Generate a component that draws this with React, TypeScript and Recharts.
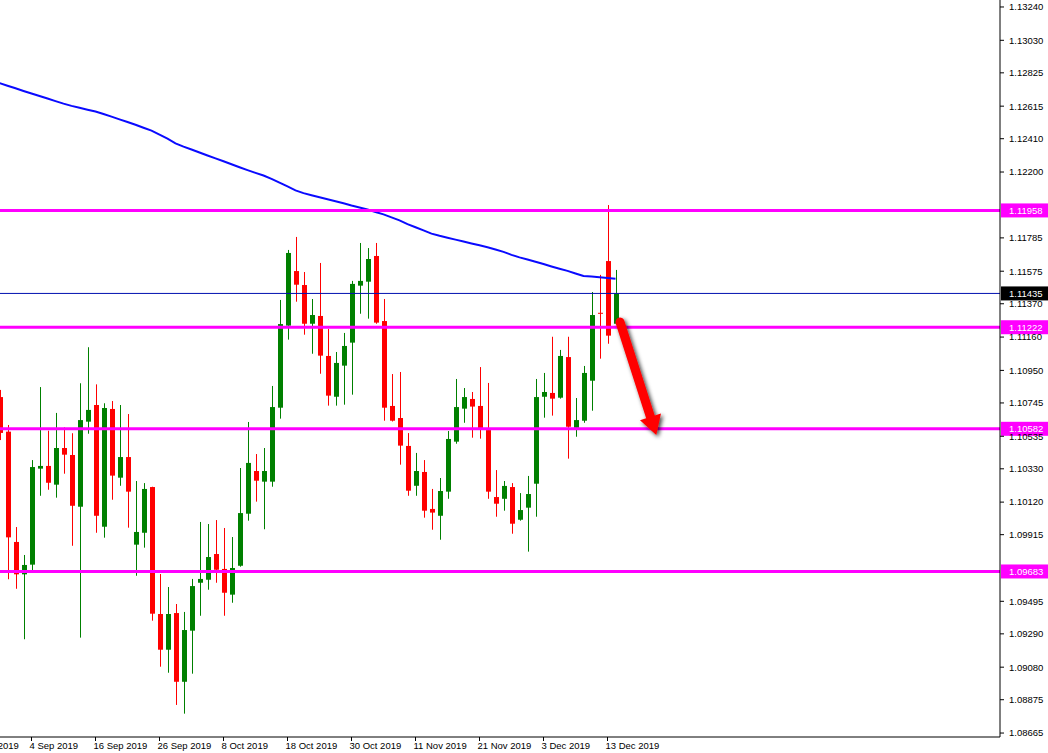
import { Bar, ComposedChart, Line, ReferenceLine, XAxis, YAxis } from "recharts";

// EURUSD daily, 29 Aug – 16 Dec 2019
const dates = [
  "29 Aug", "30 Aug", "2 Sep", "3 Sep", "4 Sep", "5 Sep", "6 Sep", "9 Sep", "10 Sep", "11 Sep",
  "12 Sep", "13 Sep", "16 Sep", "17 Sep", "18 Sep", "19 Sep", "20 Sep", "23 Sep", "24 Sep", "25 Sep",
  "26 Sep", "27 Sep", "30 Sep", "1 Oct", "2 Oct", "3 Oct", "4 Oct", "7 Oct", "8 Oct", "9 Oct",
  "10 Oct", "11 Oct", "14 Oct", "15 Oct", "16 Oct", "17 Oct", "18 Oct", "21 Oct", "22 Oct", "23 Oct",
  "24 Oct", "25 Oct", "28 Oct", "29 Oct", "30 Oct", "31 Oct", "1 Nov", "4 Nov", "5 Nov", "6 Nov",
  "7 Nov", "8 Nov", "11 Nov", "12 Nov", "13 Nov", "14 Nov", "15 Nov", "18 Nov", "19 Nov", "20 Nov",
  "21 Nov", "22 Nov", "25 Nov", "26 Nov", "27 Nov", "28 Nov", "29 Nov", "2 Dec", "3 Dec", "4 Dec",
  "5 Dec", "6 Dec", "9 Dec", "10 Dec", "11 Dec", "12 Dec", "13 Dec", "16 Dec",
];

const opens = [
  1.10782, 1.10564, 1.09869, 1.09665, 1.09726, 1.10331, 1.10348, 1.1023, 1.10461, 1.10417,
  1.10091, 1.10627, 1.10732, 1.09965, 1.10707, 1.10274, 1.10404, 1.09852, 1.09927, 1.10215,
  1.09415, 1.0919, 1.09421, 1.08988, 1.0931, 1.09612, 1.09631, 1.09793, 1.09699, 1.09537,
  1.09719, 1.10047, 1.10316, 1.10249, 1.10249, 1.10715, 1.11232, 1.11576, 1.11488, 1.11244,
  1.11293, 1.11041, 1.10784, 1.1098, 1.11125, 1.11484, 1.11509, 1.11671, 1.11261, 1.10726,
  1.1065, 1.10474, 1.10223, 1.1031, 1.10077, 1.10034, 1.10186, 1.10501, 1.10709, 1.1077,
  1.10726, 1.10574, 1.10152, 1.10141, 1.10215, 1.10009, 1.10085, 1.10236, 1.10784, 1.10808,
  1.10778, 1.11034, 1.10588, 1.10633, 1.10885, 1.11313, 1.11639, 1.11244,
];

const highs = [
  1.10827, 1.10606, 1.09963, 1.09787, 1.10385, 1.10845, 1.1057, 1.10682, 1.10591, 1.10554,
  1.10869, 1.11096, 1.10862, 1.10743, 1.10757, 1.10732, 1.10675, 1.10253, 1.1024, 1.10217,
  1.09667, 1.09585, 1.09478, 1.09428, 1.09636, 1.09995, 1.09982, 1.10007, 1.09957, 1.099,
  1.10335, 1.10625, 1.10423, 1.10461, 1.10852, 1.11394, 1.11709, 1.11791, 1.1157, 1.114,
  1.11627, 1.11211, 1.11066, 1.11186, 1.11514, 1.11753, 1.11721, 1.11753, 1.114, 1.10927,
  1.1094, 1.10555, 1.1043, 1.10385, 1.10203, 1.10272, 1.10568, 1.10896, 1.10839, 1.10814,
  1.10971, 1.10871, 1.10322, 1.10253, 1.1024, 1.10177, 1.10285, 1.10896, 1.10934, 1.11162,
  1.11079, 1.11162, 1.10776, 1.10978, 1.11444, 1.11552, 1.11992, 1.11583,
];

const lows = [
  1.10511, 1.09634, 1.09574, 1.09256, 1.09688, 1.1016, 1.10198, 1.10148, 1.10299, 1.09845,
  1.09266, 1.10551, 1.09927, 1.09896, 1.10135, 1.10223, 1.09959, 1.09656, 1.09833, 1.09373,
  1.09083, 1.09045, 1.08842, 1.08787, 1.09039, 1.09404, 1.09568, 1.09612, 1.09404, 1.09486,
  1.09713, 1.10003, 1.10123, 1.09949, 1.10217, 1.10646, 1.11144, 1.11383, 1.11175, 1.11055,
  1.10929, 1.10728, 1.10728, 1.10734, 1.10797, 1.11307, 1.11276, 1.11244, 1.10633, 1.10628,
  1.10356, 1.1016, 1.1016, 1.10022, 1.09946, 1.09883, 1.10141, 1.10488, 1.1062, 1.10526,
  1.1052, 1.10141, 1.10028, 1.10066, 1.09921, 1.10003, 1.09808, 1.10028, 1.10652, 1.10665,
  1.10772, 1.10394, 1.10532, 1.1062, 1.10696, 1.11024, 1.11118, 1.1124,
];

const closes = [
  1.10556, 1.09898, 1.09665, 1.09724, 1.10341, 1.10348, 1.10242, 1.10461, 1.10419, 1.10097,
  1.10637, 1.10701, 1.10034, 1.10713, 1.10287, 1.10404, 1.10186, 1.09932, 1.10203, 1.09417,
  1.0919, 1.09415, 1.08988, 1.09314, 1.09591, 1.09636, 1.09774, 1.09694, 1.09549, 1.09705,
  1.10051, 1.10367, 1.10255, 1.10316, 1.10719, 1.11242, 1.1169, 1.1149, 1.11244, 1.11299,
  1.11043, 1.10791, 1.10997, 1.11104, 1.11495, 1.11514, 1.11652, 1.11251, 1.10715, 1.10633,
  1.10476, 1.10192, 1.10316, 1.10066, 1.10054, 1.1019, 1.10518, 1.10719, 1.10782, 1.10722,
  1.10579, 1.10186, 1.1011, 1.10222, 1.09984, 1.1007, 1.10171, 1.10782, 1.10814, 1.10772,
  1.11041, 1.10595, 1.10637, 1.10934, 1.11299, 1.1131, 1.11169, 1.11435,
];

// 200-day moving average
const ma200 = [
  1.1276, 1.12744, 1.12728, 1.12711, 1.12695, 1.12679, 1.12663, 1.12647, 1.12631, 1.12617,
  1.12605, 1.12593, 1.12581, 1.12566, 1.12549, 1.12532, 1.12515, 1.12498, 1.12479, 1.12461,
  1.12435, 1.1241, 1.12381, 1.1236, 1.12342, 1.12323, 1.12304, 1.12286, 1.12268, 1.12249,
  1.1223, 1.12212, 1.12195, 1.12178, 1.12157, 1.12133, 1.12109, 1.12084, 1.12067, 1.12054,
  1.12041, 1.12029, 1.12016, 1.12003, 1.11989, 1.11977, 1.11964, 1.11948, 1.11933, 1.11914,
  1.11895, 1.11872, 1.11852, 1.11832, 1.11812, 1.11798, 1.11786, 1.11774, 1.11762, 1.1175,
  1.11739, 1.11726, 1.11712, 1.11697, 1.11678, 1.11662, 1.11649, 1.11635, 1.1162, 1.11605,
  1.11591, 1.11577, 1.11561, 1.11545, 1.11541, 1.11537, 1.11532, 1.11528,
];

const priceTicks = [
  1.1324, 1.1303, 1.12825, 1.12615, 1.1241, 1.122, 1.11785, 1.11575, 1.1137, 1.1116, 1.1095,
  1.10745, 1.10535, 1.1033, 1.1012, 1.09915, 1.09495, 1.0929, 1.0908, 1.08875, 1.08665,
];

const dateTickIndex = [-4, 4, 12, 20, 28, 36, 44, 52, 60, 68, 76];
const dateTickLabels = [
  "23 Aug 2019", "4 Sep 2019", "16 Sep 2019", "26 Sep 2019", "8 Oct 2019", "18 Oct 2019",
  "30 Oct 2019", "11 Nov 2019", "21 Nov 2019", "3 Dec 2019", "13 Dec 2019",
];

const levels = [1.11958, 1.11222, 1.10582, 1.09683];
const lastPrice = 1.11435;
const arrowStart = { i: 77.56, price: 1.11255 };
const arrowEnd = { i: 82.1, price: 1.10543 };

const data = dates.map((date, i) => ({
  i,
  date,
  open: opens[i],
  high: highs[i],
  low: lows[i],
  close: closes[i],
  ma: ma200[i],
}));

const FONT = "Tahoma, 'Liberation Sans', Arial, sans-serif";
const UP = "#008000";
const DOWN = "#ff0000";

function Candle(props: any) {
  const { x, y, width, height, payload } = props;
  if (!payload || x == null) return null;
  const { open, close, high, low } = payload;
  const top = Math.min(y, y + height);
  const h = Math.abs(height);
  const range = high - low || 1e-9;
  const py = (v: number) => top + ((high - v) / range) * h;
  const cx = Math.floor(x + width / 2) + 0.5;
  const color = close > open ? UP : DOWN;
  const bTop = py(Math.max(open, close));
  const bBot = py(Math.min(open, close));
  return (
    <g>
      <line x1={cx} x2={cx} y1={top} y2={top + h} stroke={color} strokeWidth={1} />
      <rect x={cx - 2.5} y={bTop} width={5} height={Math.max(1, bBot - bTop)} fill={color} />
    </g>
  );
}

function DateTick(props: any) {
  const { x, y, payload } = props;
  const k = dateTickIndex.indexOf(payload.value);
  return (
    <text x={x - 2} y={y} dy="0.71em" fill="#000" fontSize={9.5} fontFamily={FONT} textAnchor="start">
      {dateTickLabels[k]}
    </text>
  );
}

const priceTag = (bg: string, value: number) => (props: any) => {
  const vb = props.viewBox;
  if (!vb) return null;
  const x = vb.x + vb.width + 1;
  return (
    <g>
      <rect x={x} y={vb.y - 7} width={47} height={14} fill={bg} />
      <text x={x + 8} y={vb.y} dy="0.355em" fill="#fff" fontSize={9.5} fontFamily={FONT}>
        {value.toFixed(5)}
      </text>
    </g>
  );
};

function Arrow(props: any) {
  const { x1, y1, x2, y2 } = props;
  const dx = x2 - x1;
  const dy = y2 - y1;
  const len = Math.hypot(dx, dy) || 1;
  const ux = dx / len;
  const uy = dy / len;
  const nx = -uy;
  const ny = ux;
  const head = 19;
  const half = 11;
  const bx = x2 - ux * head;
  const by = y2 - uy * head;
  return (
    <g>
      <defs>
        <filter id="arrowShadow" x="-50%" y="-50%" width="200%" height="200%">
          <feDropShadow dx="2" dy="2" stdDeviation="2" floodColor="#000" floodOpacity="0.75" />
        </filter>
      </defs>
      <g filter="url(#arrowShadow)">
        <line x1={x1} y1={y1} x2={bx + ux * 3} y2={by + uy * 3} stroke={DOWN} strokeWidth={9} strokeLinecap="round" />
        <polygon
          points={`${x2},${y2} ${bx + nx * half},${by + ny * half} ${bx - nx * half},${by - ny * half}`}
          fill={DOWN}
        />
      </g>
    </g>
  );
}

export default function App() {
  return (
    <div style={{ position: "absolute", left: -56, top: 0, background: "#fff" }}>
      <ComposedChart width={1104} height={753} data={data} margin={{ top: 0, right: 0, bottom: 0, left: 0 }}>
        <XAxis
          type="number"
          dataKey="i"
          domain={[-6.9375, 125.0625]}
          allowDataOverflow
          ticks={dateTickIndex}
          interval={0}
          height={16}
          tickSize={4}
          tickMargin={1}
          tick={<DateTick />}
          axisLine={{ stroke: "#000" }}
          tickLine={{ stroke: "#000" }}
        />
        <YAxis
          orientation="right"
          type="number"
          domain={[1.0864, 1.13284]}
          allowDataOverflow
          ticks={priceTicks}
          interval={0}
          width={48}
          tickSize={4}
          tickMargin={5}
          tickFormatter={(v: number) => v.toFixed(5)}
          tick={{ fill: "#000", fontSize: 9.5, fontFamily: FONT }}
          axisLine={{ stroke: "#000" }}
          tickLine={{ stroke: "#000" }}
        />
        <Line
          type="linear"
          dataKey="ma"
          stroke="#0a0aff"
          strokeWidth={2}
          strokeLinecap="butt"
          dot={false}
          activeDot={false}
          isAnimationActive={false}
        />
        <Bar
          dataKey={(d: any) => [d.low, d.high]}
          barSize={5}
          shape={(p: any) => <Candle {...p} />}
          isAnimationActive={false}
        />
        <ReferenceLine y={lastPrice} stroke="#0010b0" strokeWidth={1} label={{ content: priceTag("#000", lastPrice) }} />
        {levels.map((lv) => (
          <ReferenceLine key={lv} y={lv} stroke="#ff00ff" strokeWidth={3} label={{ content: priceTag("#ff00ff", lv) }} />
        ))}
        <ReferenceLine
          segment={[
            { x: arrowStart.i, y: arrowStart.price },
            { x: arrowEnd.i, y: arrowEnd.price },
          ]}
          shape={(p: any) => <Arrow {...p} />}
        />
      </ComposedChart>
    </div>
  );
}
